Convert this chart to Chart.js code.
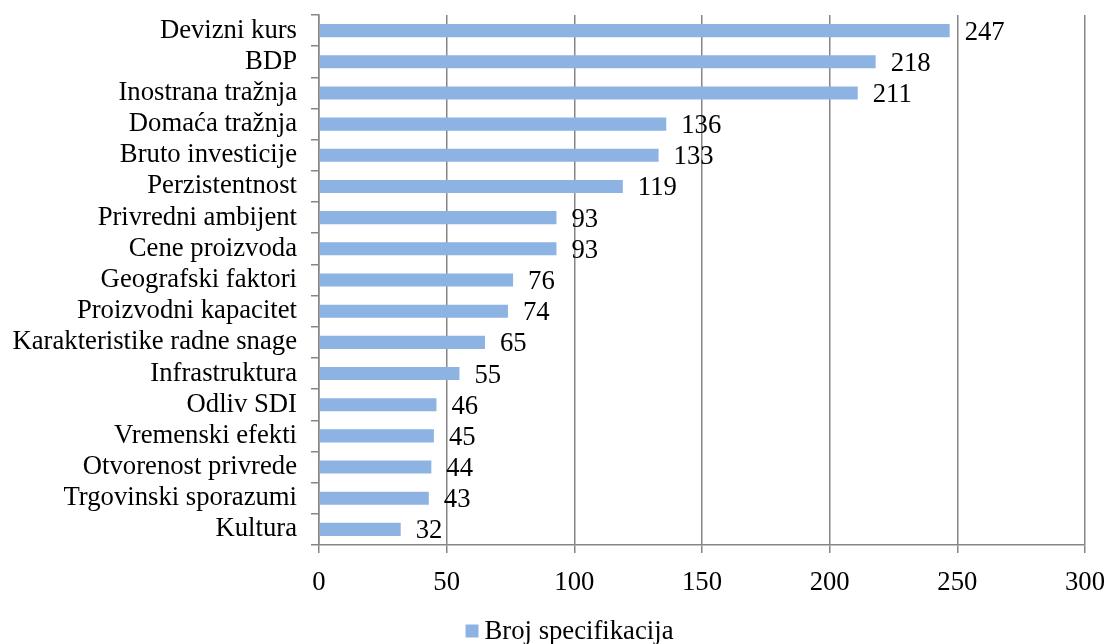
<!DOCTYPE html>
<html>
<head>
<meta charset="utf-8">
<script src="https://cdn.jsdelivr.net/npm/chart.js@4/dist/chart.umd.min.js"></script>
<style>
html,body{margin:0;padding:0;background:#fff;}
#wrap{width:1107px;height:644px;position:relative;}
</style>
</head>
<body>
<div id="wrap"><canvas id="c" width="1107" height="644"></canvas></div>
<script>
const categories = ["Devizni kurs","BDP","Inostrana tražnja","Domaća tražnja","Bruto investicije","Perzistentnost","Privredni ambijent","Cene proizvoda","Geografski faktori","Proizvodni kapacitet","Karakteristike radne snage","Infrastruktura","Odliv SDI","Vremenski efekti","Otvorenost privrede","Trgovinski sporazumi","Kultura"];
const values = [247,218,211,136,133,119,93,93,76,74,65,55,46,45,44,43,32];
const seriesName = "Broj specifikacija";
const xTicks = [0,50,100,150,200,250,300];

const FONT = "'Liberation Serif','Times New Roman',serif";
const FS = 26.7;
const BAR_COLOR = '#8DB3E2';

const valueLabels = {
  id: 'valueLabels',
  afterDatasetsDraw(chart) {
    const ctx = chart.ctx;
    const meta = chart.getDatasetMeta(0);
    ctx.save();
    ctx.font = FS + "px " + FONT;
    ctx.fillStyle = "#000";
    ctx.textAlign = "left";
    ctx.textBaseline = "middle";
    meta.data.forEach((el, i) => {
      ctx.fillText(String(values[i]), el.x + 15, el.y + 2);
    });
    ctx.restore();
  }
};

const bottomLegend = {
  id: 'bottomLegend',
  afterDraw(chart) {
    const ctx = chart.ctx;
    const ds = chart.data.datasets[0];
    ctx.save();
    ctx.font = FS + "px " + FONT;
    const tw = ctx.measureText(ds.label).width;
    const box = 13, gap = 6;
    const total = box + gap + tw;
    const cy = chart.height - 13;
    const x0 = (chart.width - total) / 2 + 16;
    ctx.fillStyle = ds.backgroundColor;
    ctx.fillRect(x0, cy - box / 2, box, box);
    ctx.fillStyle = '#000';
    ctx.textAlign = 'left';
    ctx.textBaseline = 'middle';
    ctx.fillText(ds.label, x0 + box + gap, cy + 1);
    ctx.restore();
  }
};

new Chart(document.getElementById('c'), {
  type: 'bar',
  data: {
    labels: categories,
    datasets: [{
      label: seriesName,
      data: values,
      backgroundColor: BAR_COLOR,
      borderWidth: 0,
      categoryPercentage: 1.0,
      barPercentage: 0.42
    }]
  },
  options: {
    indexAxis: 'y',
    responsive: false,
    animation: false,
    devicePixelRatio: 1,
    layout: { padding: { left: 0, right: 22, top: 15, bottom: 44 } },
    plugins: {
      legend: { display: false },
      tooltip: { enabled: false }
    },
    scales: {
      x: {
        min: 0, max: 300,
        afterBuildTicks(scale) { scale.ticks = xTicks.map(v => ({ value: v })); },
        ticks: { font: { family: FONT, size: FS }, color: '#000', padding: 14 },
        grid: { color: '#868686', lineWidth: 1.5, tickLength: 8, drawTicks: true },
        border: { display: true, color: '#868686', width: 1.5 },
        afterFit(scale) { scale.height = 55; scale.paddingLeft = 0; scale.paddingRight = 0; }
      },
      y: {
        ticks: { font: { family: FONT, size: FS }, color: '#000', padding: 14, autoSkip: false },
        grid: { offset: true, drawOnChartArea: false, color: '#868686', lineWidth: 1.5, tickLength: 8 },
        border: { display: true, color: '#868686', width: 1.5 },
        afterFit(scale) { scale.width = 319; scale.paddingTop = 0; scale.paddingBottom = 0; }
      }
    }
  },
  plugins: [valueLabels, bottomLegend]
});
</script>
</body>
</html>
